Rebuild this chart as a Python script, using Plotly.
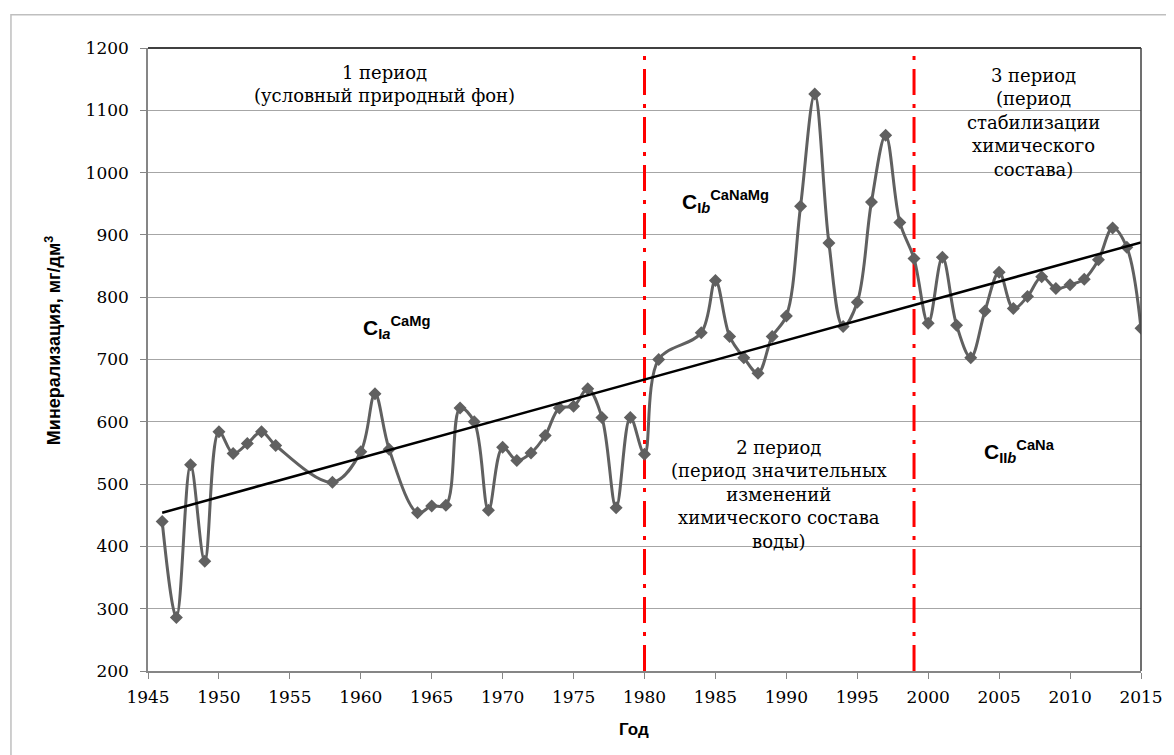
import plotly.graph_objects as go

years = [1946, 1947, 1948, 1949, 1950, 1951, 1952, 1953, 1954, 1958, 1960, 1961, 1962,
         1964, 1965, 1966, 1967, 1968, 1969, 1970, 1971, 1972, 1973, 1974, 1975, 1976,
         1977, 1978, 1979, 1980, 1981, 1984, 1985, 1986, 1987, 1988, 1989, 1990, 1991,
         1992, 1993, 1994, 1995, 1996, 1997, 1998, 1999, 2000, 2001, 2002, 2003, 2004,
         2005, 2006, 2007, 2008, 2009, 2010, 2011, 2012, 2013, 2014, 2015]
mineral = [440, 286, 531, 376, 584, 549, 565, 584, 562, 503, 552, 645, 556,
           454, 465, 466, 622, 600, 458, 559, 538, 550, 578, 622, 625, 653,
           607, 462, 607, 548, 700, 743, 827, 737, 703, 678, 737, 770, 946,
           1126, 887, 753, 792, 953, 1060, 920, 862, 758, 864, 755, 703, 778,
           840, 782, 801, 833, 814, 820, 829, 860, 911, 880, 750]

# linear trend line as drawn in the reference (values at first and last year)
trend_years = [1946, 2015]
trend_values = [454, 888]

period_bounds = [1980, 1999]
x_ticks = list(range(1945, 2016, 5))
y_ticks = list(range(200, 1201, 100))

fig = go.Figure()

for xb in period_bounds:
    fig.add_trace(go.Scatter(x=[xb, xb], y=[200, 1200], mode="lines",
                             line=dict(color="#FF0000", width=3, dash="26px,9px,4px,9px"),
                             hoverinfo="skip", showlegend=False))

fig.add_trace(go.Scatter(x=years, y=mineral, mode="lines+markers",
                         line=dict(color="#606060", width=3, shape="spline", smoothing=1),
                         marker=dict(symbol="diamond", size=10, color="#606060"),
                         showlegend=False))

fig.add_trace(go.Scatter(x=trend_years, y=trend_values, mode="lines",
                         line=dict(color="#000000", width=2.5), showlegend=False))

serif = "DejaVu Serif"
sans = "Arial"

ann = []
def txt(x, y, s, size=18, family=serif, xref="x", yref="y", **kw):
    ann.append(dict(x=x, y=y, xref=xref, yref=yref, text=s, showarrow=False,
                    xanchor="center", yanchor="middle",
                    font=dict(family=family, size=size, color="#000000"), **kw))

txt(1961.7, 1142, "1 период<br>(условный природный фон)")
txt(1989.5, 484, "2 период<br>(период значительных<br>изменений<br>химического состава<br>воды)")
txt(2007.4, 1080, "3 период<br>(период<br>стабилизации<br>химического<br>состава)")
txt(1962.5, 752, "<b>C<sub>I<i>a</i></sub><sup>CaMg</sup></b>", size=21, family=sans)
txt(1985.7, 953, "<b>C<sub>I<i>b</i></sub><sup>CaNaMg</sup></b>", size=21, family=sans)
txt(2006.4, 552, "<b>C<sub>II<i>b</i></sub><sup>CaNa</sup></b>", size=21, family=sans)
txt(-0.0957, 0.531, "<b>Минерализация, мг/дм<sup>3</sup></b>", size=18, family=sans,
    xref="paper", yref="paper", textangle=-90)
txt(0.489, -0.0947, "<b>Год</b>", size=17, family=sans, xref="paper", yref="paper")

fig.update_layout(
    width=1166, height=747,
    margin=dict(l=140, r=33, t=40, b=84),
    paper_bgcolor="white", plot_bgcolor="white",
    annotations=ann,
    shapes=[
        dict(type="rect", xref="paper", yref="paper", x0=-0.138, y0=-0.2, x1=1.1, y1=1.0535,
             line=dict(color="#BFBFBF", width=1.5), layer="below"),
        dict(type="line", xref="paper", yref="paper", x0=0, y0=1, x1=1, y1=1,
             line=dict(color="#000000", width=1.5)),
        dict(type="line", xref="paper", yref="paper", x0=1, y0=0, x1=1, y1=1,
             line=dict(color="#404040", width=1.5)),
    ],
    xaxis=dict(range=[1945, 2015], tickvals=x_ticks, showgrid=False, zeroline=False,
               showline=True, linecolor="#868686", linewidth=1.5,
               ticks="outside", ticklen=6, tickcolor="#868686", ticklabelstandoff=4,
               tickfont=dict(family=serif, size=17, color="#000000")),
    yaxis=dict(range=[200, 1200], tickvals=y_ticks, showgrid=True, gridcolor="#A6A6A6",
               gridwidth=1, zeroline=False, showline=True, linecolor="#868686", linewidth=1.5,
               ticks="outside", ticklen=6, tickcolor="#868686", ticklabelstandoff=8,
               tickfont=dict(family=serif, size=17, color="#000000")),
)

fig.write_html("out.html")
